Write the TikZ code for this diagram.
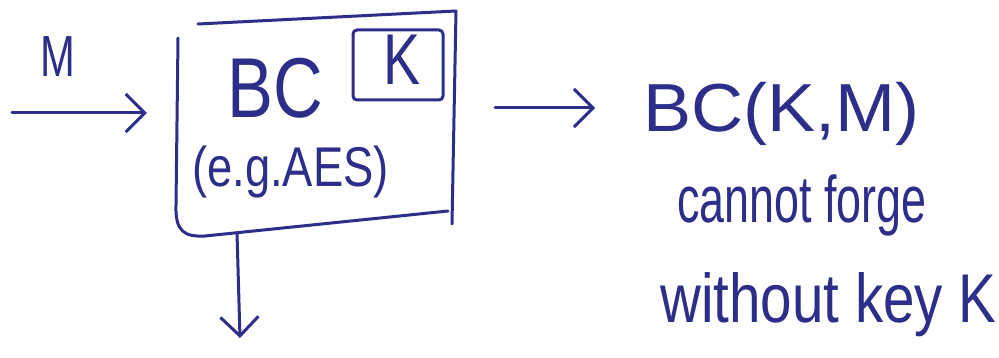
\documentclass[tikz,border=0pt]{standalone}
\usepackage{fontspec}
\setmainfont{Liberation Sans}
\usetikzlibrary{arrows.meta,calc}
\definecolor{ink}{RGB}{44,46,138}
\tikzset{
  pen/.style={draw=ink, line width=3pt, line cap=round, line join=round},
  arr/.style={pen, -{Straight Barb[length=19pt,width=38pt,line width=3pt]}},
  hand/.style={text=ink, inner sep=0pt, anchor=base west},
}
\newcommand{\hsz}[2]{\fontsize{#1}{#1}\selectfont #2}
\begin{document}
\begin{tikzpicture}[x=1pt,y=-1pt]
\useasboundingbox[fill=white] (0,0) rectangle (999,358);

% block cipher box (anchor only) and its hand-drawn outline
\node[minimum width=278pt, minimum height=215pt, inner sep=0pt] (box) at (317,125) {};
\draw[pen] (178,38) -- (176,205) .. controls (175,232) and (185,237) .. (205,236) -- (448,211);
\draw[pen] (198,24) -- (456,11) -- (452,224);

% key box
\node[pen, rounded corners=4pt, minimum width=90pt, minimum height=70pt, inner sep=0pt] (keybox) at (398,65) {};
\node[hand] (k) at (383,85) {\scalebox{0.77}[1]{\hsz{72pt}{K}}};

% labels inside the box
\node[hand] (bc) at (227,118) {\scalebox{0.81}[1]{\hsz{85pt}{BC}}};
\node[hand] (eg) at (192,187) {\scalebox{0.81}[1]{\hsz{56pt}{(e.g.AES)}}};

% message input
\node[hand] (m) at (40,77) {\scalebox{0.72}[1]{\hsz{58pt}{M}}};
\coordinate (in) at (12,113);
\draw[arr] (in) -- ([xshift=-31pt]box.west |- in);

% output
\node[hand] (out) at (643,132) {\scalebox{1.06}[1]{\hsz{68pt}{BC(K,M)}}};
\node[hand] (c1) at (677,223) {\scalebox{0.68}[1]{\hsz{66pt}{cannot forge}}};
\node[hand] (c2) at (660,323) {\scalebox{0.82}[1]{\hsz{69pt}{without key K}}};
\draw[arr] ([xshift=39pt,yshift=17pt]box.east) -- ([xshift=-48pt,yshift=17pt]box.east -| out.west);

% downward output
\coordinate (down) at (240,338);
\draw[arr] (box.south -| 237,0) -- (down);
\end{tikzpicture}
\end{document}
